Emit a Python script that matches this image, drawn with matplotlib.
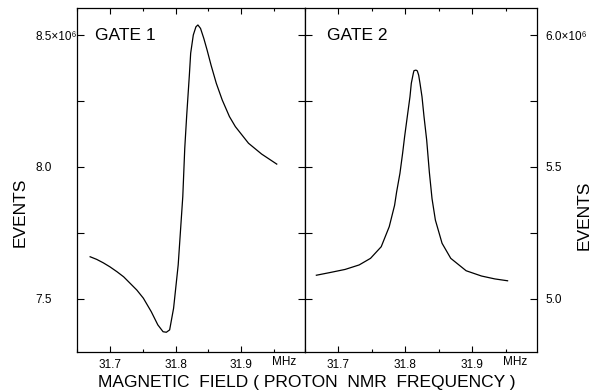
import numpy as np
import matplotlib
matplotlib.use('Agg')
import matplotlib.pyplot as plt

plt.rcParams['font.family'] = ['Liberation Sans', 'DejaVu Sans']

# gate 1: frequency (MHz) and events (x10^6)
gate1_f = [31.670, 31.680, 31.690, 31.700, 31.711, 31.721, 31.731, 31.741, 31.751,
           31.763, 31.773, 31.781, 31.786, 31.791, 31.797, 31.804, 31.811, 31.814,
           31.817, 31.821, 31.823, 31.827, 31.831, 31.834, 31.838, 31.843, 31.848,
           31.854, 31.862, 31.871, 31.882, 31.891, 31.911, 31.931, 31.954]
gate1_n = [7.660, 7.650, 7.637, 7.622, 7.603, 7.584, 7.559, 7.534, 7.503,
           7.452, 7.402, 7.376, 7.374, 7.383, 7.465, 7.629, 7.888, 8.071,
           8.197, 8.348, 8.431, 8.500, 8.531, 8.538, 8.525, 8.487, 8.443,
           8.386, 8.317, 8.254, 8.191, 8.153, 8.090, 8.049, 8.011]

# gate 2
gate2_f = [31.667, 31.687, 31.710, 31.731, 31.748, 31.764, 31.776, 31.784, 31.787,
           31.792, 31.796, 31.799, 31.803, 31.807, 31.809, 31.812, 31.813, 31.816,
           31.818, 31.820, 31.822, 31.825, 31.828, 31.832, 31.836, 31.840, 31.845,
           31.855, 31.868, 31.891, 31.914, 31.934, 31.953]
gate2_n = [5.090, 5.100, 5.112, 5.129, 5.154, 5.198, 5.274, 5.355, 5.405,
           5.476, 5.552, 5.615, 5.691, 5.766, 5.817, 5.855, 5.865, 5.867,
           5.864, 5.848, 5.817, 5.766, 5.691, 5.602, 5.480, 5.380, 5.299,
           5.211, 5.154, 5.107, 5.087, 5.076, 5.069]

left_ticks = [7.5, 7.75, 8.0, 8.25, 8.5]
left_labels = ['7.5', '', '8.0', '', '8.5×10⁶']
right_ticks = [5.0, 5.25, 5.5, 5.75, 6.0]
right_labels = ['5.0', '', '5.5', '', '6.0×10⁶']
x_major = [31.7, 31.8, 31.9]
x_minor = [31.65, 31.75, 31.85, 31.95]

fig = plt.figure(figsize=(5.9, 3.92), dpi=100)
ax1 = fig.add_axes([77/590, 40/392, 228/590, 344/392])
ax2 = fig.add_axes([305/590, 40/392, 232/590, 344/392])

for ax, f, n in [(ax1, gate1_f, gate1_n), (ax2, gate2_f, gate2_n)]:
    ax.plot(f, n, '-', color='black', lw=0.9, solid_joinstyle='round')
    ax.set_xlim(31.653, 31.997)
    ax.set_xticks(x_major)
    ax.set_xticklabels(['31.7', '31.8', '31.9'])
    ax.set_xticks(x_minor, minor=True)
    ax.tick_params(axis='x', which='both', direction='in', top=True, bottom=True,
                   labelsize=8.5, pad=5, width=0.8)
    ax.tick_params(axis='x', which='major', length=4)
    ax.tick_params(axis='x', which='minor', length=2.5)
    ax.tick_params(axis='y', direction='in', left=True, right=True, length=5,
                   width=0.8, labelsize=8.5)
    for s in ax.spines.values():
        s.set_linewidth(0.9)
    ax.text(31.965, -0.03, 'MHz', transform=ax.get_xaxis_transform(),
            ha='center', va='center', fontsize=8.5)

ax1.set_ylim(7.2992, 8.6023)
ax1.set_yticks(left_ticks)
ax1.set_yticklabels(left_labels)
ax1.tick_params(axis='y', pad=30)
for lab in ax1.get_yticklabels():
    lab.set_horizontalalignment('left')

ax2.set_ylim(4.7992, 6.1023)
ax2.set_yticks(right_ticks)
ax2.set_yticklabels(right_labels)
ax2.tick_params(axis='y', labelleft=False, labelright=True, pad=6)

ax1.text(95/590, 1 - 35/392, 'GATE 1', transform=fig.transFigure,
         ha='left', va='center', fontsize=12.5)
ax2.text(327/590, 1 - 35/392, 'GATE 2', transform=fig.transFigure,
         ha='left', va='center', fontsize=12.5)

fig.text(20/590, 1 - 212/392, 'EVENTS', rotation=90, ha='center', va='center', fontsize=12.5)
fig.text(584/590, 1 - 215/392, 'EVENTS', rotation=90, ha='center', va='center', fontsize=12.5)
fig.text(307/590, 1 - 382/392, 'MAGNETIC  FIELD ( PROTON  NMR  FREQUENCY )',
         ha='center', va='center', fontsize=12.5)

fig.savefig('out.png', dpi=100)
